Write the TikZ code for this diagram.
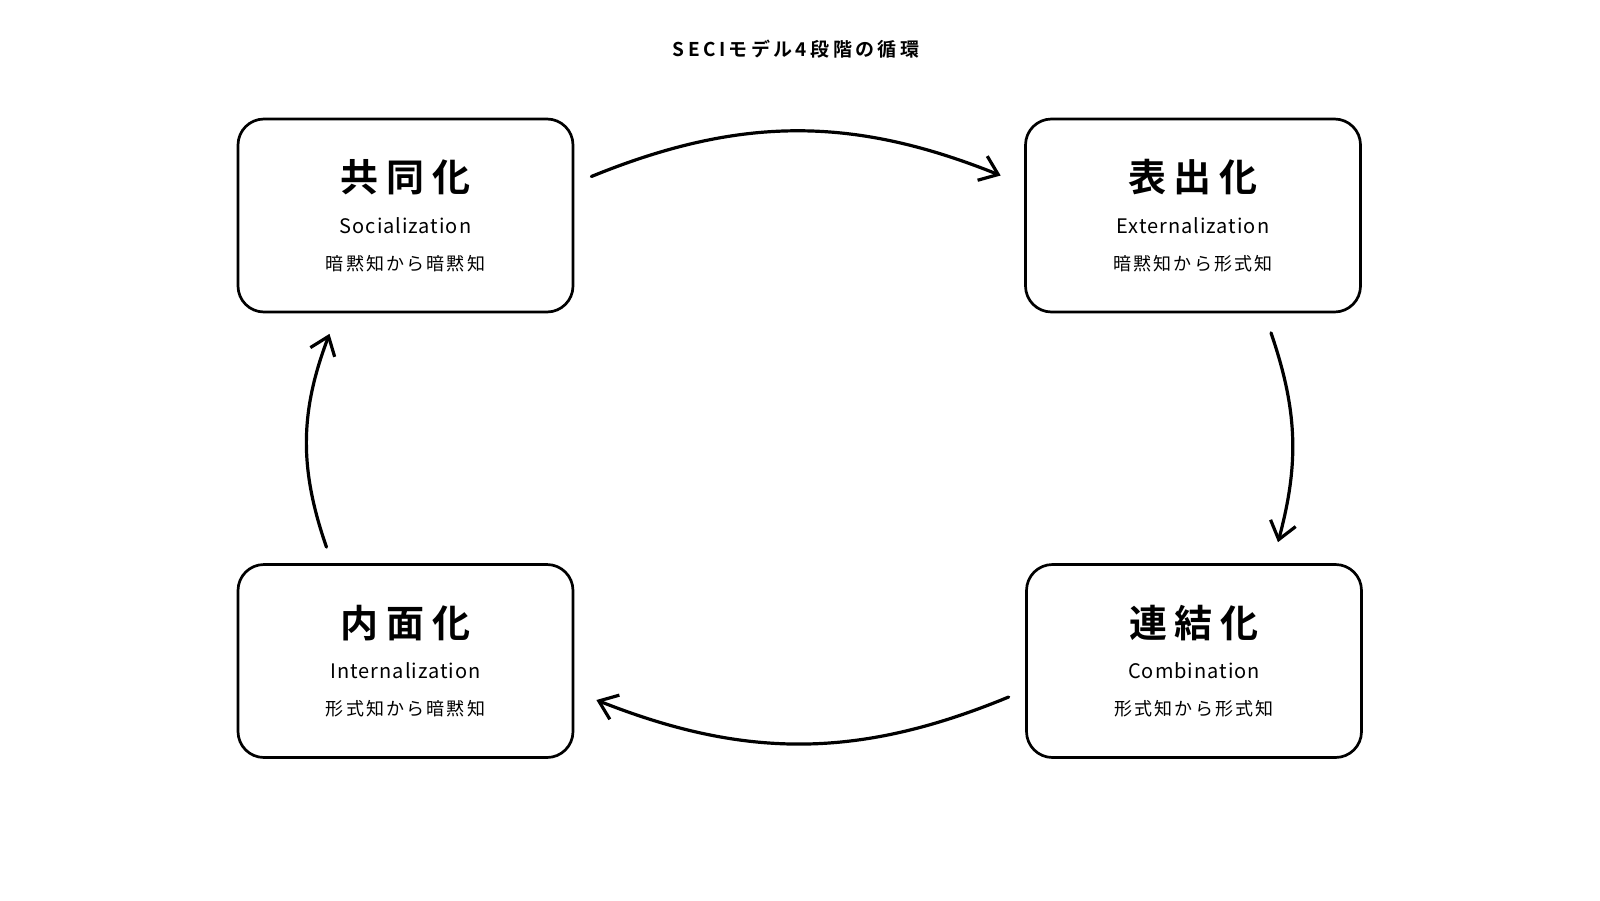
\documentclass[tikz,border=0pt]{standalone}
\usepackage{fontspec}
\setmainfont{Noto Sans CJK JP}
\newfontfamily\headfont[LetterSpace=20]{Noto Sans CJK JP Bold}
\newfontfamily\titlefont[LetterSpace=18]{Noto Sans CJK JP Bold}
\newfontfamily\engfont[LetterSpace=5]{Noto Sans CJK JP}
\newfontfamily\subfont[LetterSpace=12]{Noto Sans CJK JP}
\usetikzlibrary{calc,positioning,arrows.meta}

\begin{document}
\begin{tikzpicture}[x=1pt, y=-1pt,
  card/.style={draw, line width=2.7pt, rounded corners=26pt,
               minimum width=335pt, minimum height=193pt},
  phase/.style={font=\headfont\fontsize{38}{42}\selectfont},
  eng/.style={font=\engfont\fontsize{20}{24}\selectfont},
  jp/.style={font=\subfont\fontsize{18}{22}\selectfont},
  cycle/.style={line width=3.2pt, line cap=round, line join=round,
                -{Straight Barb[length=17pt, width=26pt]}}]
\useasboundingbox (0,0) rectangle (1600,900);
%
\node[font=\titlefont\fontsize{19}{22}\selectfont] (title) at (796,49) {SECIモデル4段階の循環};
%
\node[card] (soc) at (405.5,215.5) {};
\node[card] (ext) at (1193,215.5) {};
\node[card] (com) at (1194,661) {};
\node[card] (int) at (405.5,661) {};
%
\node[phase] (soc-h) at ($(soc)+(0,-38)$) {共同化};
\node[eng]   (soc-e) at ($(soc)+(0,10)$) {Socialization};
\node[jp]    (soc-j) at ($(soc)+(0,48.5)$) {暗黙知から暗黙知};
\node[phase] (ext-h) at ($(ext)+(0,-38)$) {表出化};
\node[eng]   (ext-e) at ($(ext)+(0,10)$) {Externalization};
\node[jp]    (ext-j) at ($(ext)+(0,48.5)$) {暗黙知から形式知};
\node[phase] (com-h) at ($(com)+(0,-37.5)$) {連結化};
\node[eng]   (com-e) at ($(com)+(0,9.5)$) {Combination};
\node[jp]    (com-j) at ($(com)+(0,48)$) {形式知から形式知};
\node[phase] (int-h) at ($(int)+(0,-37.5)$) {内面化};
\node[eng]   (int-e) at ($(int)+(0,9.5)$) {Internalization};
\node[jp]    (int-j) at ($(int)+(0,48)$) {形式知から暗黙知};
%
\draw[cycle] ($(soc.east)+(17,-39)$) to[bend left=22] ($(ext.west)+(-23.5,-40)$);
\draw[cycle] ($(ext.south)+(78,19.5)$) to[bend left=17] ($(com.north)+(84,-21)$);
\draw[cycle] ($(com.west)+(-16.5,36)$) to[bend left=22] ($(int.east)+(22,39)$);
\draw[cycle] ($(int.north)+(-79,-16)$) to[bend left=20] ($(soc.south)+(-76,20.5)$);
%
\end{tikzpicture}
\end{document}
